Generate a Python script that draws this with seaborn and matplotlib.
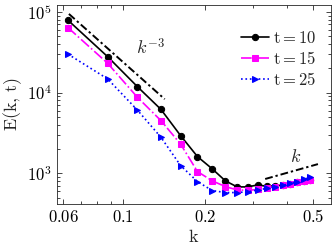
import numpy as np
import pandas as pd
import matplotlib
matplotlib.use("Agg")
import matplotlib.pyplot as plt
import seaborn as sns
from matplotlib.ticker import FixedLocator, FixedFormatter, NullFormatter

k_vals = [0.0625, 0.0875, 0.1125, 0.1375, 0.1625, 0.1875, 0.2125, 0.2375, 0.2625,
          0.2875, 0.3125, 0.3375, 0.3625, 0.3875, 0.4125, 0.4375, 0.4625, 0.4875]
E_t10 = [79000, 27900, 11900, 6200, 2930, 1610, 1135, 806, 678,
         678, 718, 690, 700, 715, 740, 770, 800, 835]
E_t15 = [64000, 23100, 8800, 4500, 2300, 1050, 806, 684, 622,
         615, 630, 655, 685, 710, 740, 770, 800, 830]
E_t25 = [30000, 14800, 6100, 2800, 1245, 789, 611, 577, 577,
         590, 620, 650, 680, 710, 750, 790, 840, 890]
series_labels = ["t=10", "t=15", "t=25"]

guide_m3_k = [0.063, 0.142]
guide_m3_E = [94500, 8300]
guide_p1_k = [0.333, 0.521]
guide_p1_E = [850, 1300]

sns.set_theme(style="ticks")
plt.rcParams["mathtext.fontset"] = "cm"
plt.rcParams["font.family"] = ["DejaVu Serif"]

fig = plt.figure(figsize=(3.32, 2.49), dpi=100)
ax = fig.add_axes([0.172, 0.182, 0.825, 0.798])

df = pd.DataFrame({"k": k_vals * 3,
                   "E": E_t10 + E_t15 + E_t25,
                   "t": [series_labels[0]] * len(k_vals) + [series_labels[1]] * len(k_vals)
                        + [series_labels[2]] * len(k_vals)})

styles = [("black", "o", "-"), ("#ff00ff", "s", "-."), ("#0000ff", ">", ":")]
for lab, (c, m, ls) in zip(series_labels, styles):
    sub = df[df["t"] == lab]
    sns.lineplot(data=sub, x="k", y="E", ax=ax, color=c, marker=m, linestyle=ls,
                 linewidth=1.2, markersize=4.5, markeredgecolor=c, markerfacecolor=c,
                 label=r"$\mathrm{" + lab + "}$", estimator=None, sort=False)

ax.plot(guide_m3_k, guide_m3_E, color="black", linestyle=(0, (4, 1.5, 1.2, 1.5)), linewidth=1.4)
ax.plot(guide_p1_k, guide_p1_E, color="black", linestyle=(0, (4, 1.5, 1.2, 1.5)), linewidth=1.4)
ax.text(0.126, 36000, r"$k^{-3}$", fontsize=13, ha="center", va="center")
ax.text(0.432, 1600, r"$k$", fontsize=13, ha="center", va="center")

ax.set_xscale("log")
ax.set_yscale("log")
ax.set_xlim(0.057, 0.582)
ax.set_ylim(420, 122000)

ax.xaxis.set_major_locator(FixedLocator([0.06, 0.1, 0.2, 0.5]))
ax.xaxis.set_major_formatter(FixedFormatter([r"$0.06$", r"$0.1$", r"$0.2$", r"$0.5$"]))
ax.xaxis.set_minor_locator(FixedLocator([0.07, 0.08, 0.09, 0.3, 0.4]))
ax.xaxis.set_minor_formatter(NullFormatter())
ax.yaxis.set_major_locator(FixedLocator([1e3, 1e4, 1e5]))
ax.yaxis.set_major_formatter(FixedFormatter([r"$10^3$", r"$10^4$", r"$10^5$"]))
ax.yaxis.set_minor_locator(FixedLocator([v * d for d in (100, 1000, 10000) for v in range(2, 10)]))
ax.yaxis.set_minor_formatter(NullFormatter())

gray = "#262626"
for s in ax.spines.values():
    s.set_visible(True)
    s.set_color(gray)
    s.set_linewidth(0.6)
ax.tick_params(which="both", direction="in", top=True, right=True, colors=gray,
               labelcolor="black", width=0.6)
ax.tick_params(which="major", length=3.5, labelsize=12, pad=4)
ax.tick_params(which="minor", length=2)

ax.set_xlabel(r"$\mathrm{k}$", fontsize=13, labelpad=1)
ax.set_ylabel(r"$\mathrm{E(k,\,t)}$", fontsize=13, labelpad=2)

leg = ax.legend(loc="upper right", frameon=False, fontsize=12, handlelength=1.7,
                handletextpad=0.2, labelspacing=0.25, bbox_to_anchor=(1.0, 0.95))

fig.savefig("out.png", dpi=100)
